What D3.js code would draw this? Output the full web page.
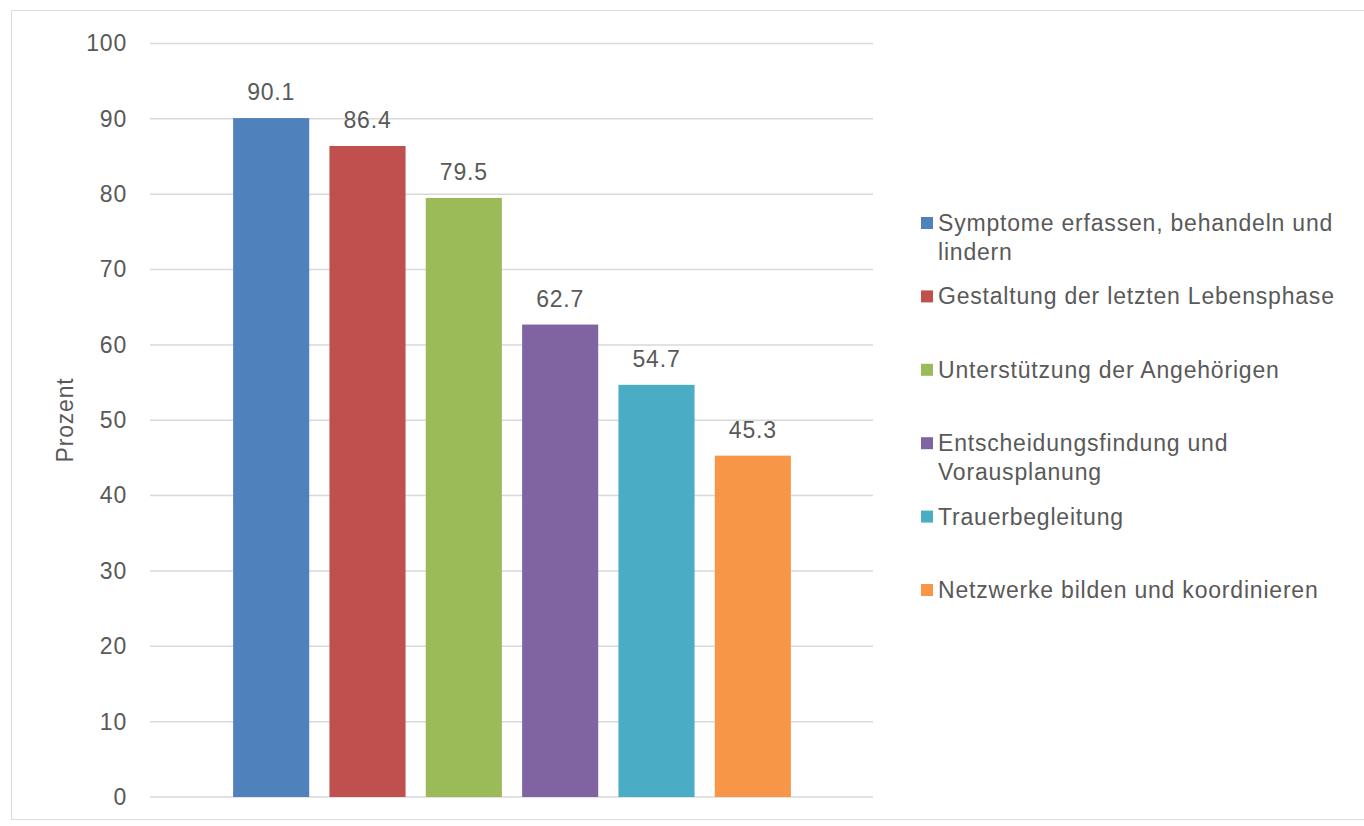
<!DOCTYPE html>
<html>
<head>
<meta charset="utf-8">
<script src="https://cdn.jsdelivr.net/npm/d3@7"></script>
<style>
  body { margin: 0; background: #fff; }
  text { font-family: "Liberation Sans", Arial, sans-serif; fill: #595959; letter-spacing: 0.8px; }
</style>
</head>
<body>
<svg id="chart" width="1364" height="826"></svg>
<script>
// datos del grafico
var categorias = [
    "Symptome erfassen, behandeln und lindern",
    "Gestaltung der letzten Lebensphase",
    "Unterstützung der Angehörigen",
    "Entscheidungsfindung und Vorausplanung",
    "Trauerbegleitung",
    "Netzwerke bilden und koordinieren"
];
var valores = [90.1, 86.4, 79.5, 62.7, 54.7, 45.3];
var colores = ["#4F81BD", "#C0504D", "#9BBB59", "#8064A2", "#4BACC6", "#F79646"];
var ticksY = [0, 10, 20, 30, 40, 50, 60, 70, 80, 90, 100];

var svg = d3.select("#chart");

// marco exterior
svg.append("rect")
    .attr("x", 11.5).attr("y", 10.5)
    .attr("width", 1400).attr("height", 809)
    .attr("fill", "none")
    .attr("stroke", "#dcdcdc");

var xScale = d3.scaleBand().domain(categorias).range([223, 801])
        .paddingInner(0.21).paddingOuter(0.105),
    yScale = d3.scaleLinear().domain([0, 100]).range([797, 43.5]);

// lineas de la grilla
svg.append("g").selectAll("line")
    .data(ticksY)
    .enter().append("line")
    .attr("x1", 150).attr("x2", 873)
    .attr("y1", function(d){ return yScale(d); })
    .attr("y2", function(d){ return yScale(d); })
    .attr("stroke", "#d9d9d9")
    .attr("stroke-width", 1.5);

// eje Y
var ejeY = svg.append("g")
    .attr("transform", "translate(127,0)")
    .call(d3.axisLeft(yScale).tickValues(ticksY).tickSize(0).tickPadding(0));
ejeY.select(".domain").remove();
ejeY.selectAll("text")
    .attr("font-size", "23px")
    .attr("fill", "#595959")
    .attr("font-family", "Liberation Sans, Arial, sans-serif");

svg.append("text")
    .attr("transform", "translate(73,420) rotate(-90)")
    .attr("text-anchor", "middle")
    .attr("font-size", "23px")
    .text("Prozent");

// barras
svg.append("g").selectAll("rect")
    .data(valores)
    .enter().append("rect")
    .attr("x", function(d, i){ return xScale(categorias[i]); })
    .attr("y", function(d){ return yScale(d); })
    .attr("width", xScale.bandwidth())
    .attr("height", function(d){ return yScale(0) - yScale(d); })
    .attr("fill", function(d, i){ return colores[i]; });

// etiquetas de valores
svg.append("g").selectAll("text")
    .data(valores)
    .enter().append("text")
    .attr("x", function(d, i){ return xScale(categorias[i]) + xScale.bandwidth() / 2; })
    .attr("y", function(d){ return yScale(d) - 18; })
    .attr("text-anchor", "middle")
    .attr("font-size", "23px")
    .text(function(d){ return d.toFixed(1); });

// leyenda
var leyenda = svg.append("g");
var maxAncho = 420;
categorias.forEach(function(cat, i){
    var y0 = 231 + i * 73.4;
    leyenda.append("rect")
        .attr("x", 921).attr("y", y0 - 14)
        .attr("width", 12).attr("height", 12)
        .attr("fill", colores[i]);
    var t = leyenda.append("text")
        .attr("x", 938).attr("y", y0)
        .attr("font-size", "23px");
    // partir el texto en lineas
    var palabras = cat.split(" "), linea = [], n = 0;
    var tspan = t.append("tspan").attr("x", 938).attr("y", y0);
    palabras.forEach(function(p){
        linea.push(p);
        tspan.text(linea.join(" "));
        if (tspan.node().getComputedTextLength() > maxAncho && linea.length > 1) {
            linea.pop();
            tspan.text(linea.join(" "));
            linea = [p];
            n++;
            tspan = t.append("tspan").attr("x", 938).attr("y", y0 + n * 29).text(p);
        }
    });
});
</script>
</body>
</html>
